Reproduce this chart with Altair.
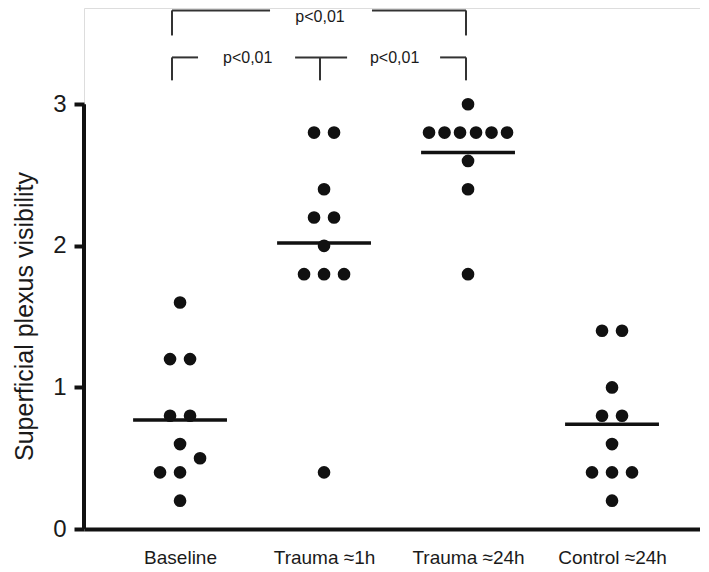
import altair as alt
import pandas as pd

# ---- data ----
groups = ["Baseline", "Trauma \u22481h", "Trauma \u224824h", "Control \u224824h"]

baseline_values = [1.6, 1.2, 1.2, 0.8, 0.8, 0.6, 0.5, 0.4, 0.4, 0.2]
baseline_slots = [0, -1, 1, -1, 1, 0, 2, -2, 0, 0]

trauma1h_values = [2.8, 2.8, 2.4, 2.2, 2.2, 2.0, 1.8, 1.8, 1.8, 0.4]
trauma1h_slots = [-1, 1, 0, -1, 1, 0, -2, 0, 2, 0]

trauma24h_values = [3.0, 2.8, 2.8, 2.8, 2.8, 2.8, 2.8, 2.6, 2.4, 1.8]
trauma24h_slots = [0, -3.9, -2.35, -0.8, 0.8, 2.35, 3.9, 0, 0, 0]

control_values = [1.4, 1.4, 1.0, 0.8, 0.8, 0.6, 0.4, 0.4, 0.4, 0.2]
control_slots = [-1, 1, 0, -1, 1, 0, -2, 0, 2, 0]

y_ticks = [0, 1, 2, 3]
p_label = "p<0,01"

# ---- tables ----
rows = []
for gi, (vals, slots) in enumerate([
    (baseline_values, baseline_slots),
    (trauma1h_values, trauma1h_slots),
    (trauma24h_values, trauma24h_slots),
    (control_values, control_slots),
]):
    for v, s in zip(vals, slots):
        rows.append({"g": gi + 1, "value": v, "slot": s})
pts = pd.DataFrame(rows)

# significance brackets (annotation geometry, in data units)
bracket_segments = pd.DataFrame([
    {"x": 0.944, "x2": 1.625, "y": 3.663, "y2": 3.663},
    {"x": 2.333, "x2": 2.986, "y": 3.663, "y2": 3.663},
    {"x": 0.944, "x2": 0.944, "y": 3.663, "y2": 3.486},
    {"x": 2.986, "x2": 2.986, "y": 3.663, "y2": 3.486},
    {"x": 0.944, "x2": 1.125, "y": 3.331, "y2": 3.331},
    {"x": 0.944, "x2": 0.944, "y": 3.331, "y2": 3.169},
    {"x": 1.799, "x2": 2.160, "y": 3.331, "y2": 3.331},
    {"x": 1.972, "x2": 1.972, "y": 3.331, "y2": 3.169},
    {"x": 2.806, "x2": 2.986, "y": 3.331, "y2": 3.331},
    {"x": 2.986, "x2": 2.986, "y": 3.331, "y2": 3.169},
])
bracket_texts = pd.DataFrame([
    {"x": 1.972, "y": 3.615, "t": p_label},
    {"x": 1.47, "y": 3.325, "t": p_label},
    {"x": 2.49, "y": 3.325, "t": p_label},
])

XMIN, XMAX = 0.333, 4.611
YMIN, YMAX = 0.0, 3.68
FONT = "Liberation Sans"

xscale = alt.Scale(domain=[XMIN, XMAX], nice=False, zero=False)
yscale = alt.Scale(domain=[YMIN, YMAX], nice=False, zero=False)

label_expr = " : ".join(
    [f"datum.value == {i+1} ? '{g}'" for i, g in enumerate(groups)]
) + " : ''"

x_axis = alt.Axis(
    values=[1, 2, 3, 4], labelExpr=label_expr, ticks=False, grid=False,
    domain=True, domainWidth=4, domainColor="#111111",
    labelFontSize=19, labelFont=FONT, labelColor="#1a1a1a", labelPadding=19,
    title=None,
)
y_axis = alt.Axis(
    values=y_ticks, format="d", domain=False, grid=False,
    tickSize=10, tickWidth=4, tickColor="#111111",
    labelFontSize=24, labelFont=FONT, labelColor="#1a1a1a", labelPadding=8,
    title="Superficial plexus visibility", titleFontSize=25, titleFont=FONT,
    titleFontWeight="normal", titleColor="#1a1a1a",
    titleX=-60, titleY=308, titleAngle=-90, titleAlign="center",
    titleBaseline="middle",
)

base_pts = alt.Chart(pts).transform_calculate(
    xpos="datum.g + datum.slot * 10 / 144"
)

points = base_pts.mark_circle(size=160, color="#111111", opacity=1).encode(
    x=alt.X("xpos:Q", scale=xscale, axis=x_axis),
    y=alt.Y("value:Q", scale=yscale, axis=y_axis),
)

means = alt.Chart(pts).transform_aggregate(
    m="mean(value)", groupby=["g"]
).transform_calculate(
    x1="datum.g - 0.326", x2="datum.g + 0.326"
).mark_rule(color="#111111", strokeWidth=3.5).encode(
    x=alt.X("x1:Q", scale=xscale),
    x2="x2:Q",
    y=alt.Y("m:Q", scale=yscale),
)

y_line = alt.Chart(pd.DataFrame({"x": [XMIN], "y": [0.0], "y2": [3.0]})).mark_rule(
    color="#111111", strokeWidth=4
).encode(
    x=alt.X("x:Q", scale=xscale),
    y=alt.Y("y:Q", scale=yscale),
    y2="y2:Q",
)

brackets = alt.Chart(bracket_segments).mark_rule(
    color="#333333", strokeWidth=2
).encode(
    x=alt.X("x:Q", scale=xscale),
    x2="x2:Q",
    y=alt.Y("y:Q", scale=yscale),
    y2="y2:Q",
)

btext = alt.Chart(bracket_texts).mark_text(
    font=FONT, fontSize=16, color="#1a1a1a", baseline="middle", align="center"
).encode(
    x=alt.X("x:Q", scale=xscale),
    y=alt.Y("y:Q", scale=yscale),
    text="t:N",
)

chart = alt.layer(brackets, btext, means, points, y_line).properties(
    width=616, height=521,
    padding={"left": 76, "top": 0, "right": 0, "bottom": 43},
    autosize=alt.AutoSizeParams(type="none"),
).configure_view(stroke=None).configure(background="white")

chart.save("out.html", embed_options={"renderer": "svg", "actions": False})
